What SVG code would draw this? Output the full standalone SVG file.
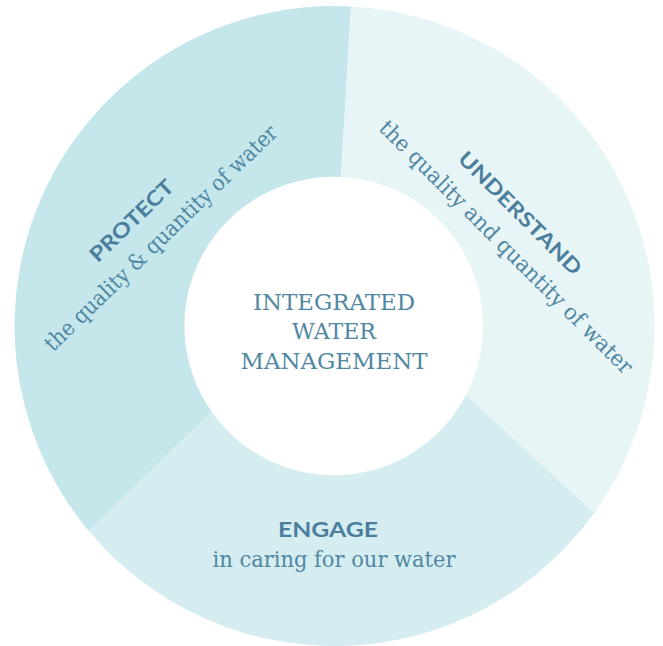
<svg xmlns="http://www.w3.org/2000/svg" width="663" height="646" viewBox="0 0 663 646">
<style>
.title{font-family:"Lato","Open Sans",sans-serif;font-weight:700;font-size:20.5px;fill:#4a7e9c;text-anchor:middle}
.sub{font-family:"DejaVu Serif",serif;font-stretch:condensed;font-size:22px;fill:#5187a2;text-anchor:middle}
.center{font-family:"DejaVu Serif",serif;font-size:22px;fill:#5187a2;text-anchor:middle}
</style>
<rect width="663" height="646" fill="#ffffff"/>
<g id="protect">
<path d="M351,6.4 A320,320 0 0 0 88.9,531.1 L211.7,411.7 A149,149 0 0 1 341,177 Z" fill="#c5e7ec"/>
<g transform="translate(131.7,220.8) rotate(-44)">
<text class="title" x="0" y="7" textLength="108" lengthAdjust="spacingAndGlyphs">PROTECT</text>
<text class="sub" x="9" y="40" textLength="314" lengthAdjust="spacingAndGlyphs">the quality &amp; quantity of water</text>
</g>
</g>
<g id="understand">
<path d="M351,6.4 A320,320 0 0 1 594.2,513 L466,395 A149,149 0 0 0 341,177 Z" fill="#e8f5f7"/>
<g transform="translate(520,213.4) rotate(45)">
<text class="title" x="0" y="7" textLength="165" lengthAdjust="spacingAndGlyphs">UNDERSTAND</text>
<text class="sub" x="14" y="41" textLength="348" lengthAdjust="spacingAndGlyphs">the quality and quantity of water</text>
</g>
</g>
<g id="engage">
<path d="M594.2,513 A320,320 0 0 1 88.9,531.1 L211.7,411.7 A149,149 0 0 0 466,395 Z" fill="#d5edf1"/>
<text class="title" x="328" y="536.7" textLength="100" lengthAdjust="spacingAndGlyphs">ENGAGE</text>
<text class="sub" x="334" y="566.5" textLength="243" lengthAdjust="spacingAndGlyphs">in caring for our water</text>
</g>
<g id="center">
<text class="center" x="334" y="309.5" textLength="162" lengthAdjust="spacingAndGlyphs">INTEGRATED</text>
<text class="center" x="334" y="339" textLength="84" lengthAdjust="spacingAndGlyphs">WATER</text>
<text class="center" x="334" y="368.5" textLength="187" lengthAdjust="spacingAndGlyphs">MANAGEMENT</text>
</g>
<g id="connectors"/>
</svg>
